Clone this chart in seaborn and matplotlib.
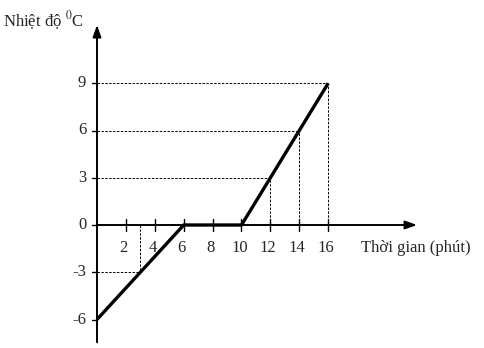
import matplotlib
matplotlib.use("Agg")
import matplotlib.pyplot as plt
import seaborn as sns
import pandas as pd

# Data
time_min = [0, 6, 10, 16]
temp_c = [-6, 0, 0, 9]
x_ticks = [2, 4, 6, 8, 10, 12, 14, 16]
y_ticks = [9, 6, 3, 0, -3, -6]
guide_points = [(3, -3), (12, 3), (14, 6), (16, 9)]
x_label = "Thời gian (phút)"
y_label = "Nhiệt độ $^{0}$C"

sns.set_style("white")
plt.rcParams['font.family'] = ['Liberation Serif', 'DejaVu Serif']
plt.rcParams['mathtext.fontset'] = 'stix'

fig = plt.figure(figsize=(4.85, 3.48), dpi=100)
ax = fig.add_axes([0, 0, 1, 1])
sx, sy = 14.45, 15.75
ax.set_xlim(-97 / sx, (485 - 97) / sx)
ax.set_ylim((225 - 348) / sy, 225 / sy)
ax.axis("off")

df = pd.DataFrame({"t": time_min, "T": temp_c})
sns.lineplot(data=df, x="t", y="T", ax=ax, color="black", lw=2.4,
             solid_capstyle="butt", zorder=4, sort=False)

# guide dashed lines
for gx, gy in guide_points:
    ax.plot([0, gx], [gy, gy], ls=(0, (2.5, 1.5)), color="black", lw=0.7, zorder=2)
    ax.plot([gx, gx], [0, gy], ls=(0, (2.5, 1.5)), color="black", lw=0.7, zorder=2)

# axes with arrows
ax.annotate("", xy=(22.15, 0), xytext=(0, 0),
            arrowprops=dict(arrowstyle="-|>,head_length=0.7,head_width=0.25",
                            color="black", lw=1.4, shrinkA=0, shrinkB=0))
ax.annotate("", xy=(0, 12.7), xytext=(0, -7.45),
            arrowprops=dict(arrowstyle="-|>,head_length=0.7,head_width=0.25",
                            color="black", lw=1.4, shrinkA=0, shrinkB=0))

# ticks
for t in x_ticks:
    ax.plot([t, t], [-0.4, 0.4], color="black", lw=1.0, zorder=3)
    ax.text(t - 0.15, -1.45, str(t), ha="center", va="center", fontsize=12)
for t in y_ticks:
    ax.plot([-0.35, 0], [t, t], color="black", lw=1.0, zorder=3)
    ax.text(-0.75, t, str(t), ha="right", va="center", fontsize=12)

ax.text(18.3, -1.45, x_label, ha="left", va="center", fontsize=12)
ax.text(-6.5, 12.95, y_label, ha="left", va="center", fontsize=12)

fig.savefig("out.png", dpi=100)
